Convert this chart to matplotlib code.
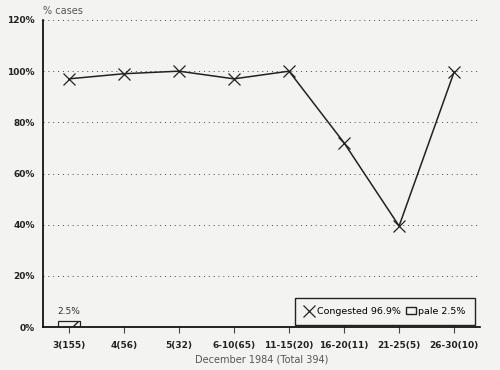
import matplotlib
matplotlib.use("Agg")
import matplotlib.pyplot as plt
from matplotlib.patches import Patch
from matplotlib.lines import Line2D

# data
categories = ["3(155)", "4(56)", "5(32)", "6-10(65)", "11-15(20)",
              "16-20(11)", "21-25(5)", "26-30(10)"]
congested = [97, 99, 100, 97, 100, 72, 39.5, 99.7]
pale = [2.5, 0, 0, 0, 0, 0, 0, 0]
yticks = [0, 20, 40, 60, 80, 100, 120]

bg = "#f3f3f1"
fig = plt.figure(figsize=(5, 3.7), dpi=100, facecolor=bg)
ax = fig.add_axes([0.086, 0.116, 0.874, 0.83], facecolor=bg)

x = list(range(len(categories)))

# pale bar (only first category non-zero)
for i, v in enumerate(pale):
    if v > 0:
        ax.bar(i, v, width=0.4, facecolor="none", edgecolor="#222222",
               linewidth=0.9, hatch="/", zorder=3)
        ax.text(i, v + 1.8, f"{v}%", ha="center", va="bottom",
                fontsize=6.5, color="#333333")

ax.plot(x, congested, color="#222222", linewidth=1.1, marker="x",
        markersize=9, markeredgewidth=0.9, zorder=4)

ax.set_xlim(-0.47, 7.47)
ax.set_ylim(0, 120)
ax.set_yticks(yticks)
ax.set_yticklabels([f"{t}%" for t in yticks], fontsize=6.5,
                   fontweight="bold", color="#222222")
ax.set_xticks(x)
ax.set_xticklabels(categories, fontsize=6.5, fontweight="bold",
                   color="#222222")
ax.tick_params(axis="y", length=0, pad=6)
ax.tick_params(axis="x", length=4, width=0.8, color="#444444", pad=6)

for t in yticks[1:]:
    ax.axhline(t, color="#444444", linestyle=(0, (1, 4)), linewidth=0.7,
               zorder=1)

for s in ["top", "right"]:
    ax.spines[s].set_visible(False)
ax.spines["left"].set_linewidth(1.2)
ax.spines["bottom"].set_linewidth(1.2)

ax.set_xlabel("December 1984 (Total 394)", fontsize=7, color="#555555",
              labelpad=3)
fig.text(0.086, 0.985, "% cases", fontsize=7, color="#555555",
         ha="left", va="top")

handles = [
    Line2D([], [], color="#222222", marker="x", linestyle="none",
           markersize=8, markeredgewidth=0.9),
    Patch(facecolor="none", edgecolor="#222222", hatch="/"),
]
leg = ax.legend(handles, ["Congested 96.9%", "pale 2.5%"], ncol=2,
                loc="lower right", bbox_to_anchor=(1.0, -0.01),
                fontsize=6.8, frameon=True, fancybox=False,
                edgecolor="#222222", facecolor=bg, framealpha=1,
                handlelength=1.0, handletextpad=0.3, columnspacing=0.6,
                borderpad=1.0)
leg.get_frame().set_linewidth(1.0)

fig.savefig("out.png", dpi=100, facecolor=bg)
